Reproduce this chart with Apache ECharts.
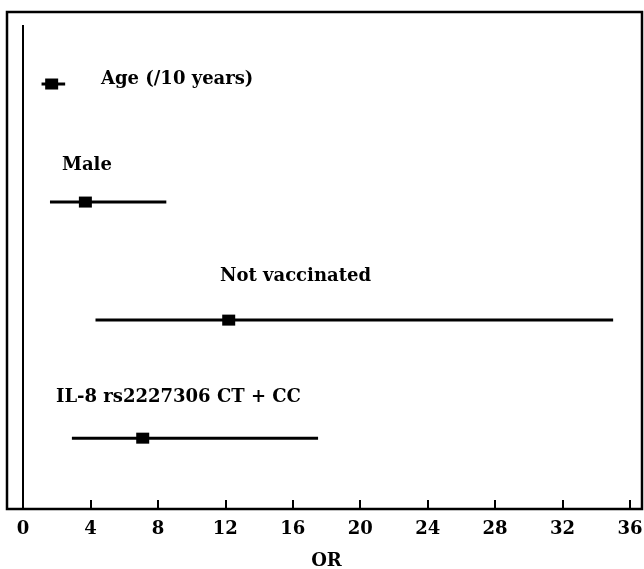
<!DOCTYPE html>
<html>
<head>
<meta charset="utf-8">
<script src="https://cdn.jsdelivr.net/npm/echarts@6/dist/echarts.min.js"></script>
<style>
    html, body {margin: 0; padding: 0; background: #fff;}
    #chart {width: 644px; height: 569px;}
</style>
</head>
<body>
<div id="chart"></div>
<script>
// odds ratios with 95% CI, one row per factor (top to bottom)
var factors = ['Age (/10 years)', 'Male', 'Not vaccinated', 'IL-8 rs2227306 CT + CC'];
var orValues = [1.7, 3.7, 12.2, 7.1];
var ciLow = [1.1, 1.6, 4.3, 2.9];
var ciHigh = [2.5, 8.5, 35.0, 17.5];
var xTicks = [0, 4, 8, 12, 16, 20, 24, 28, 32, 36];

var FONT = '"DejaVu Serif", "Liberation Serif", serif';

let rows = factors.map(function (name, i) {
    return [i + 1, orValues[i], ciLow[i], ciHigh[i]];
});

// label placement (left x, middle y) in pixels
let labelPos = [[101, 79], [62, 165], [220, 276], [56, 397]];

let option = {
    animation: false,
    backgroundColor: '#fff',
    grid: {left: 23, right: 14, top: 12, bottom: 60, outerBoundsMode: 'none'},
    xAxis: {
        type: 'value',
        min: xTicks[0],
        max: xTicks[xTicks.length - 1],
        interval: 4,
        name: 'OR',
        nameLocation: 'middle',
        nameGap: 43,
        nameTextStyle: {fontFamily: FONT, fontWeight: 'bold', fontSize: 18, color: '#000'},
        axisLine: {show: false},
        axisTick: {show: true, inside: true, length: 9, lineStyle: {color: '#000', width: 2}},
        axisLabel: {fontFamily: FONT, fontWeight: 'bold', fontSize: 18, color: '#000', margin: 11},
        splitLine: {show: false}
    },
    yAxis: {
        type: 'value',
        inverse: true,
        min: 0.39,
        max: 4.6,
        show: false
    },
    graphic: [
        {
            type: 'rect',
            shape: {x: 7, y: 12, width: 635, height: 497},
            style: {fill: null, stroke: '#000', lineWidth: 2.5},
            z: 10
        }
    ].concat(factors.map(function (name, i) {
        return {
            type: 'text',
            x: labelPos[i][0],
            y: labelPos[i][1],
            style: {
                text: name,
                font: 'bold 18px ' + FONT,
                fill: '#000',
                verticalAlign: 'middle'
            },
            z: 10
        };
    })),
    series: [
        {
            // reference line at OR = 0
            type: 'line',
            data: [[0, 0.5], [0, 4.6]],
            symbol: 'none',
            lineStyle: {color: '#000', width: 2},
            silent: true
        },
        {
            type: 'custom',
            data: rows,
            renderItem: function (params, api) {
                let y = api.value(0);
                let mid = api.coord([api.value(1), y]);
                let lo = api.coord([api.value(2), y]);
                let hi = api.coord([api.value(3), y]);
                return {
                    type: 'group',
                    children: [
                        {
                            type: 'line',
                            shape: {x1: lo[0], y1: lo[1], x2: hi[0], y2: hi[1]},
                            style: {stroke: '#000', lineWidth: 3}
                        },
                        {
                            type: 'rect',
                            shape: {x: mid[0] - 6.5, y: mid[1] - 5.5, width: 13, height: 11},
                            style: {fill: '#000'}
                        }
                    ]
                };
            }
        }
    ]
};

echarts.init(document.getElementById('chart')).setOption(option);
</script>
</body>
</html>
